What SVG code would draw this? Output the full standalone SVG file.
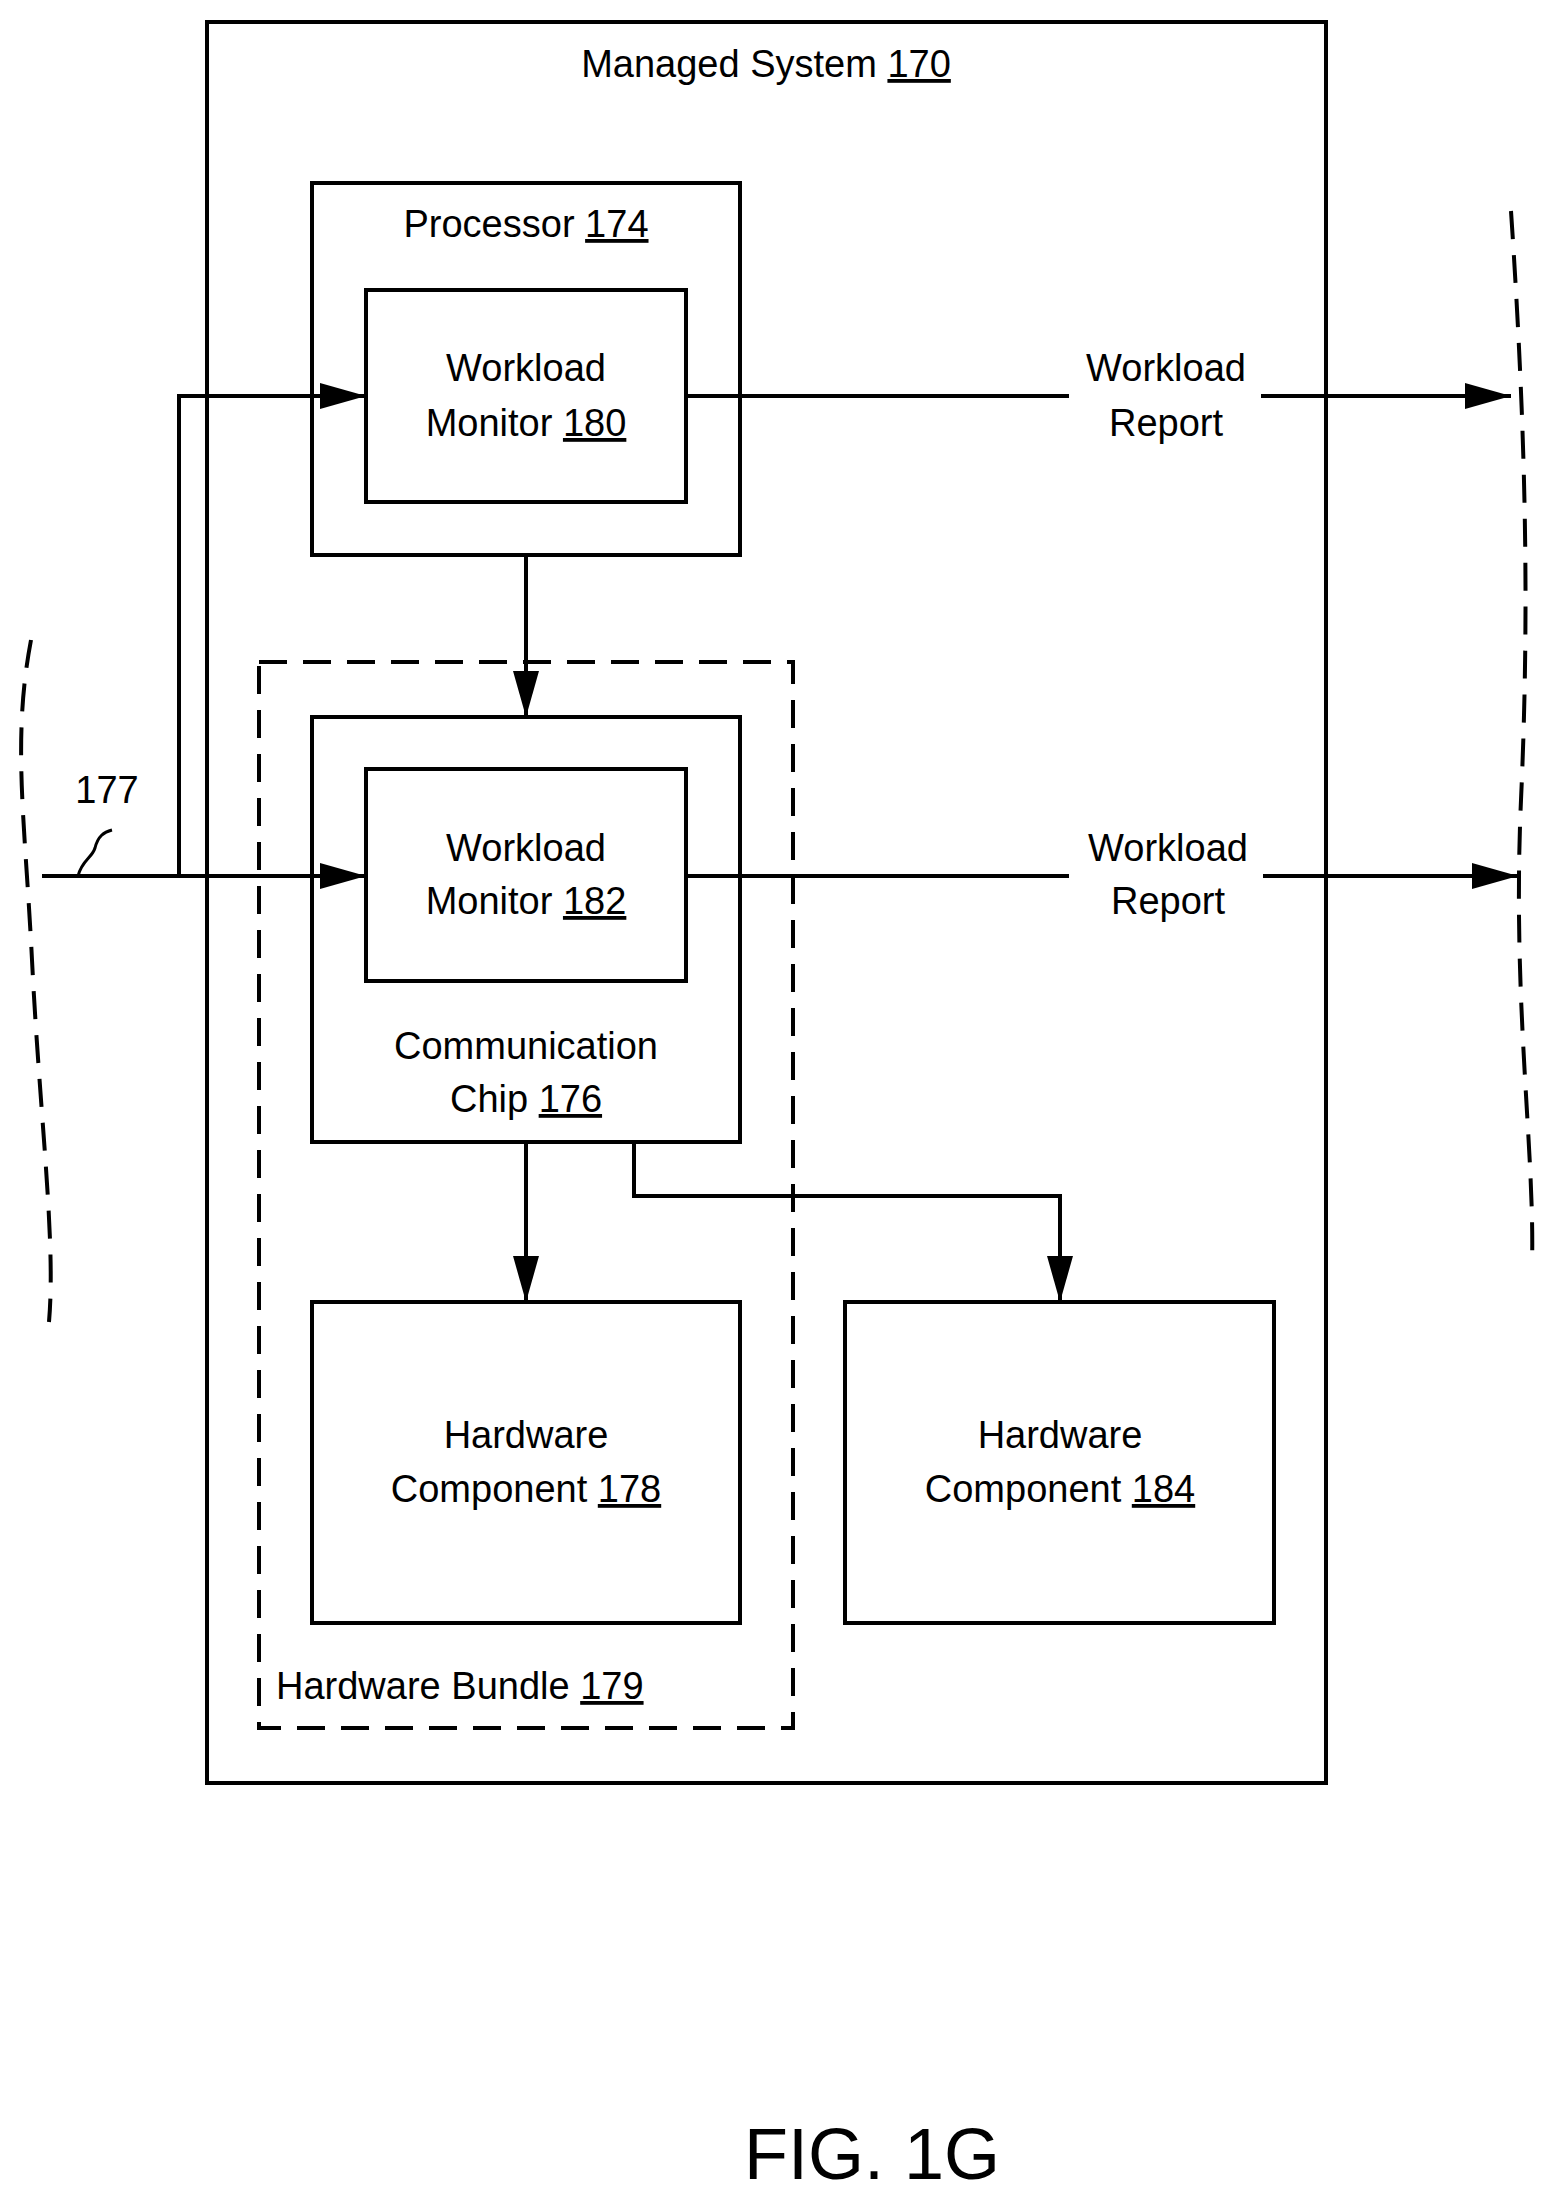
<svg xmlns="http://www.w3.org/2000/svg" width="1560" height="2197" viewBox="0 0 1560 2197">
<style>
.b{fill:none;stroke:#000;stroke-width:4}
.d{fill:none;stroke:#000;stroke-width:4;stroke-dasharray:28,16}
.c{fill:none;stroke:#000;stroke-width:4}
text{font-family:"Liberation Sans",Arial,sans-serif;font-size:38px;fill:#000;text-anchor:middle}
.u{text-decoration:underline}
</style>
<defs><marker id="a" markerWidth="10" markerHeight="8" refX="10" refY="4" orient="auto" markerUnits="userSpaceOnUse" viewBox="0 0 10 8"><path d="M0,0L10,4L0,8z"/></marker>
<marker id="ah" viewBox="0 0 46 26" refX="46" refY="13" markerWidth="46" markerHeight="26" orient="auto" markerUnits="userSpaceOnUse"><path d="M0,0L46,13L0,26z"/></marker></defs>
<g id="managed"><rect class="b" x="207" y="22" width="1119" height="1761"/><text x="766" y="77">Managed System <tspan class="u">170</tspan></text></g>
<g id="processor"><rect class="b" x="312" y="183" width="428" height="372"/><text x="526" y="237">Processor <tspan class="u">174</tspan></text></g>
<g id="wm180"><rect class="b" x="366" y="290" width="320" height="212"/><text x="526" y="381">Workload</text><text x="526" y="436">Monitor <tspan class="u">180</tspan></text></g>
<g id="bundle"><rect class="d" x="259" y="662" width="534" height="1066"/><text x="276" y="1699" style="text-anchor:start">Hardware Bundle <tspan class="u">179</tspan></text></g>
<g id="chip"><rect class="b" x="312" y="717" width="428" height="425"/><text x="526" y="1059">Communication</text><text x="526" y="1112">Chip <tspan class="u">176</tspan></text></g>
<g id="wm182"><rect class="b" x="366" y="769" width="320" height="212"/><text x="526" y="861">Workload</text><text x="526" y="914">Monitor <tspan class="u">182</tspan></text></g>
<g id="hc178"><rect class="b" x="312" y="1302" width="428" height="321"/><text x="526" y="1448">Hardware</text><text x="526" y="1502">Component <tspan class="u">178</tspan></text></g>
<g id="hc184"><rect class="b" x="845" y="1302" width="429" height="321"/><text x="1060" y="1448">Hardware</text><text x="1060" y="1502">Component <tspan class="u">184</tspan></text></g>
<g id="connectors">
<path class="c" d="M686,396H1069M1261,396H1511" marker-end="url(#ah)"/>
<path class="c" d="M686,876H1069M1263,876H1518" marker-end="url(#ah)"/>
<text x="1166" y="381">Workload</text><text x="1166" y="436">Report</text>
<text x="1168" y="861">Workload</text><text x="1168" y="914">Report</text>
<path class="c" d="M179,876V396H366" marker-end="url(#ah)"/>
<path class="c" d="M42,876H366" marker-end="url(#ah)"/>
<path class="c" d="M526,555V717" marker-end="url(#ah)"/>
<path class="c" d="M526,1142V1302" marker-end="url(#ah)"/>
<path class="c" d="M634,1142V1196H1060V1302" marker-end="url(#ah)"/>
<path class="c" d="M78,876C82,860 92,858 95,848C98,836 104,832 112,830" style="stroke-width:3"/>
<text x="107" y="803">177</text>
<path class="d" d="M31,640C12,740 25,820 32,960C40,1120 56,1240 49,1322"/>
<path class="d" d="M1511,211C1525,420 1530,600 1521,800C1512,1000 1535,1150 1532,1265"/>
</g>
<text x="872" y="2179" style="font-size:72px">FIG. 1G</text>
</svg>
